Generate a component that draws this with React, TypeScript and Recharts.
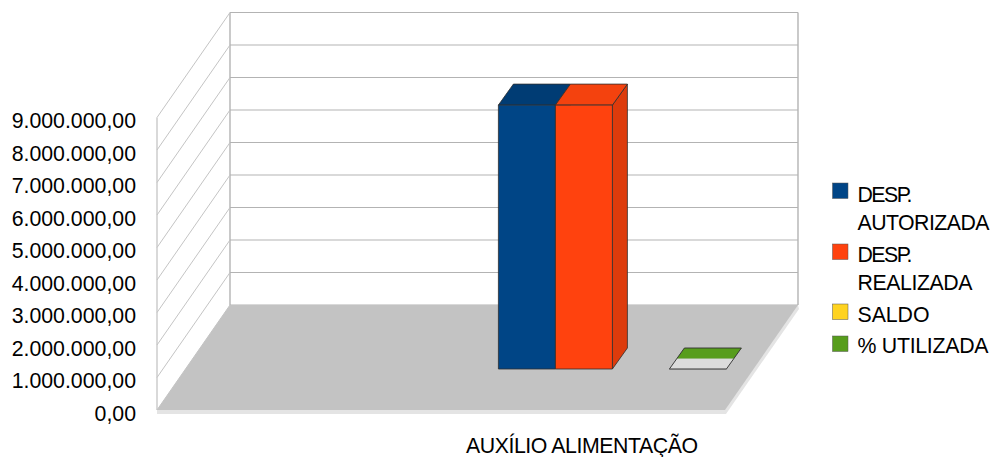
import React from "react";
import { BarChart, Bar, XAxis, YAxis, Legend, ReferenceLine, ReferenceArea } from "recharts";

const categories = ["", "AUXÍLIO ALIMENTAÇÃO"];
const despAutorizada = [null, 8120000];
const despRealizada = [null, 8120000];
const saldo = [null, 0];
const utilizada = [null, 100];
const yTicks = [0, 1000000, 2000000, 3000000, 4000000, 5000000, 6000000, 7000000, 8000000, 9000000];
const legendLines: Record<string, string[]> = {
  "DESP. AUTORIZADA": ["DESP.", "AUTORIZADA"],
  "DESP. REALIZADA": ["DESP.", "REALIZADA"],
  SALDO: ["SALDO"],
  "% UTILIZADA": ["% UTILIZADA"],
};

const rows = categories.map((name, i) => ({
  name,
  autorizada: despAutorizada[i],
  realizada: despRealizada[i],
  saldo: saldo[i],
  utilizada: utilizada[i],
}));

const FONT = "'Liberation Sans', Arial, sans-serif";
const GRID = "#b3b3b3";
const FLOOR = "#c3c3c3";
const FLOOR_EDGE = "#e4e4e4";

// Oblique projection of the 3D box: full depth of the room, and the bars' own depth.
const ROOM_DX = 73;
const ROOM_DY = -105;
const ROW_DX = 29;
const ROW_DY = -41;
const BAR_DX = 15;
const BAR_DY = -21;

const pts = (list: number[][]) => list.map((p) => p.join(",")).join(" ");

const formatTick = (v: number) => {
  const whole = String(v).replace(/\B(?=(\d{3})+$)/g, ".");
  return `${whole},00`;
};

function Walls({ x, y, width, height }: any) {
  const b = y + height;
  return (
    <g>
      <line x1={x} y1={y} x2={x} y2={b} stroke={GRID} strokeWidth={1} />
      <line x1={x + ROOM_DX} y1={y + ROOM_DY} x2={x + ROOM_DX} y2={b + ROOM_DY} stroke={GRID} strokeWidth={1.4} />
      <line x1={x + width + ROOM_DX} y1={y + ROOM_DY} x2={x + width + ROOM_DX} y2={b + ROOM_DY} stroke={GRID} strokeWidth={1.4} />
    </g>
  );
}

function GridLine({ x1, x2, y1 }: any) {
  return (
    <g>
      <line x1={x1} y1={y1} x2={x1 + ROOM_DX} y2={y1 + ROOM_DY} stroke="#c4c4c4" strokeWidth={1} />
      <line x1={x1 + ROOM_DX} y1={y1 + ROOM_DY} x2={x2 + ROOM_DX} y2={y1 + ROOM_DY} stroke={GRID} strokeWidth={1} />
    </g>
  );
}

function Floor({ x1, x2, y1 }: any) {
  return (
    <g>
      <polygon
        points={pts([
          [x1, y1],
          [x1, y1 + 4],
          [x2 + 1, y1 + 4],
          [x2 + ROOM_DX + 1, y1 + ROOM_DY + 4],
          [x2 + ROOM_DX, y1 + ROOM_DY],
        ])}
        fill={FLOOR_EDGE}
      />
      <polygon
        points={pts([
          [x1, y1],
          [x1 + ROOM_DX, y1 + ROOM_DY],
          [x2 + ROOM_DX, y1 + ROOM_DY],
          [x2, y1],
        ])}
        fill={FLOOR}
      />
    </g>
  );
}

function Box({ x, y, width, height, fill, top, side, value }: any) {
  const amount = Array.isArray(value) ? value[1] - value[0] : value;
  if (!amount) return null;
  const l = x + ROW_DX;
  const r = l + width;
  const t = y + ROW_DY;
  const b = t + height;
  const edge = "#2f2f2f";
  if (height < 1) {
    // A nearly empty bar collapses to its lid, lit on the near half only.
    const midDx = BAR_DX / 2;
    const midDy = BAR_DY / 2;
    return (
      <g>
        <polygon points={pts([[l, b], [r, b], [r + midDx, b + midDy], [l + midDx, b + midDy]])} fill="#dcdcdc" />
        <polygon
          points={pts([[l + midDx, b + midDy], [r + midDx, b + midDy], [r + BAR_DX, b + BAR_DY], [l + BAR_DX, b + BAR_DY]])}
          fill={fill}
        />
        <polygon
          points={pts([[l, b], [r, b], [r + BAR_DX, b + BAR_DY], [l + BAR_DX, b + BAR_DY]])}
          fill="none"
          stroke={edge}
          strokeWidth={0.9}
        />
        <line x1={l} y1={b + 0.4} x2={r} y2={b + 0.4} stroke="#777" strokeWidth={1.4} />
      </g>
    );
  }
  return (
    <g stroke={edge} strokeWidth={0.8} strokeLinejoin="round">
      <polygon points={pts([[r, t], [r + BAR_DX, t + BAR_DY], [r + BAR_DX, b + BAR_DY], [r, b]])} fill={side} />
      <polygon points={pts([[l, t], [r, t], [r + BAR_DX, t + BAR_DY], [l + BAR_DX, t + BAR_DY]])} fill={top} />
      <rect x={l} y={t} width={width} height={height} fill={fill} />
    </g>
  );
}

const YTick = ({ x, y, payload }: any) => (
  <text x={x} y={y + 10.5} textAnchor="end" fontFamily={FONT} fontSize={21.3} fill="#000">
    {formatTick(payload.value)}
  </text>
);

const XTick = ({ x, payload }: any) =>
  payload.value ? (
    <text x={x - 117} y={453} fontFamily={FONT} fontSize={21.3} fill="#000" textLength={232} lengthAdjust="spacing">
      {payload.value}
    </text>
  ) : null;

const LEGEND_ROWS = [
  { box: 183, lines: [202, 230] },
  { box: 244, lines: [262, 290] },
  { box: 304, lines: [322] },
  { box: 336, lines: [353] },
];
const LEGEND_WIDTHS: Record<string, number> = {
  "DESP.": 55,
  AUTORIZADA: 132,
  REALIZADA: 115,
  SALDO: 72,
  "% UTILIZADA": 131,
};

const ChartLegend = ({ payload }: any) => (
  <svg width={267} height={457} style={{ display: "block" }}>
    {(payload || []).map((item: any, i: number) => {
      const row = LEGEND_ROWS[i];
      return (
        <g key={item.value}>
          <rect x={107.5} y={row.box} width={15.5} height={15.5} fill={item.color} stroke="#555" strokeWidth={0.5} />
          {legendLines[item.value].map((line, j) => (
            <text
              key={line}
              x={132.5}
              y={row.lines[j]}
              fontFamily={FONT}
              fontSize={21.3}
              fill="#000"
              textLength={LEGEND_WIDTHS[line]}
              lengthAdjust="spacing"
            >
              {line}
            </text>
          ))}
        </g>
      );
    })}
  </svg>
);

export default function App() {
  return (
    <div style={{ position: "absolute", left: 0, top: 0, width: 992, height: 457, background: "#fff" }}>
      <BarChart
        width={992}
        height={457}
        data={rows}
        barGap={0}
        barCategoryGap="10%"
        margin={{ top: 117.5, right: 0, bottom: 0, left: 0 }}
      >
        <XAxis dataKey="name" height={47} axisLine={false} tickLine={false} interval={0} tick={<XTick />} />
        <YAxis
          width={157}
          domain={[0, 9000000]}
          ticks={yTicks}
          axisLine={false}
          tickLine={false}
          tickMargin={15}
          interval={0}
          tick={<YTick />}
        />
        <Legend
          layout="vertical"
          align="right"
          verticalAlign="top"
          width={267}
          itemSorter={null}
          wrapperStyle={{ left: 725, top: 0, right: "auto", margin: 0 }}
          content={<ChartLegend />}
        />
        <ReferenceArea y1={0} y2={9000000} shape={<Walls />} zIndex={10} />
        {yTicks.map((v) => (
          <ReferenceLine key={v} y={v} shape={<GridLine />} zIndex={11} />
        ))}
        <ReferenceLine y={0} shape={<Floor />} zIndex={12} />
        <Bar name="DESP. AUTORIZADA" dataKey="autorizada" fill="#004586" isAnimationActive={false} shape={<Box top="#003c74" side="#003566" />} zIndex={300} />
        <Bar name="DESP. REALIZADA" dataKey="realizada" fill="#ff420e" isAnimationActive={false} shape={<Box top="#f4420e" side="#dd3b0c" />} zIndex={301} />
        <Bar name="SALDO" dataKey="saldo" fill="#ffd320" isAnimationActive={false} shape={<Box top="#e6be1c" side="#d4b01a" />} zIndex={302} />
        <Bar name="% UTILIZADA" dataKey="utilizada" fill="#579d1c" isAnimationActive={false} shape={<Box top="#579d1c" side="#4a8618" />} zIndex={303} />
      </BarChart>
    </div>
  );
}
